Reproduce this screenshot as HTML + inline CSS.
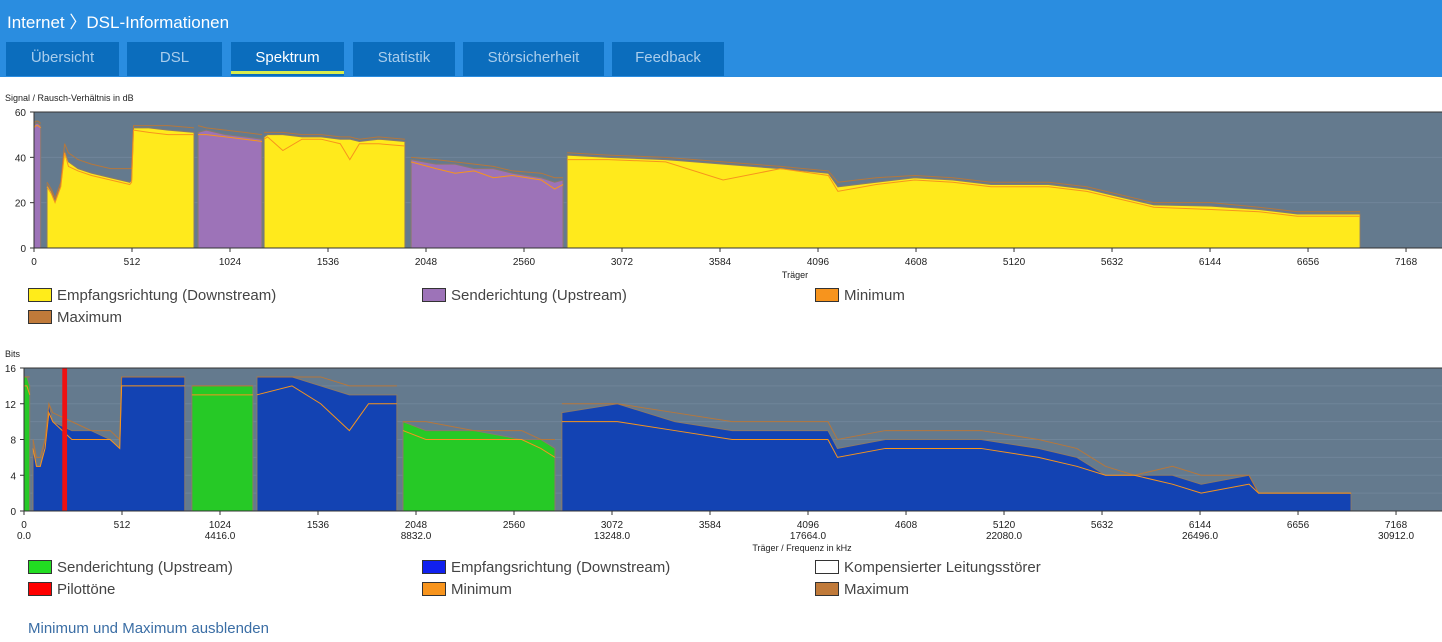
<!DOCTYPE html>
<html><head><meta charset="utf-8">
<style>
body{margin:0;width:1442px;height:642px;overflow:hidden;background:#fff;font-family:"Liberation Sans",sans-serif;position:relative}
#hdr{position:absolute;left:0;top:0;width:1442px;height:77px;background:#2a8de0}
#title{position:absolute;left:7px;top:8px;color:#fff;font-size:17px}
.tab{position:absolute;top:42px;height:34px;background:#0b6dbd;color:#a9cdec;font-size:15px;text-align:center;line-height:32px}
.tab.act{color:#fff}
.tab.act::after{content:"";position:absolute;left:0;right:0;bottom:2px;height:3px;background:#d8ec4c}
.lg{position:absolute;font-size:15px;color:#444;height:16px;line-height:16px}
.lg i{display:inline-block;width:22px;height:12px;border:1px solid #333;vertical-align:-2px;margin-right:5px}
svg text{font-family:"Liberation Sans",sans-serif}
#link{position:absolute;left:28px;top:620px;font-size:15px;color:#3b6ea5}
</style></head><body>
<div id="hdr">
<div id="title">Internet 〉DSL-Informationen</div>
<div class="tab" style="left:6px;width:113px">Übersicht</div>
<div class="tab" style="left:127px;width:95px">DSL</div>
<div class="tab act" style="left:231px;width:113px">Spektrum</div>
<div class="tab" style="left:353px;width:102px">Statistik</div>
<div class="tab" style="left:463px;width:141px">Störsicherheit</div>
<div class="tab" style="left:612px;width:112px">Feedback</div>
</div>
<svg id="svg" width="1442" height="642" style="position:absolute;left:0;top:0"></svg>

<div class="lg" style="left:28px;top:288px"><i style="background:#ffec1a"></i>Empfangsrichtung (Downstream)</div>
<div class="lg" style="left:422px;top:288px"><i style="background:#9d73b8"></i>Senderichtung (Upstream)</div>
<div class="lg" style="left:815px;top:288px"><i style="background:#f7941d"></i>Minimum</div>
<div class="lg" style="left:28px;top:310px"><i style="background:#c07a3a"></i>Maximum</div>

<div class="lg" style="left:28px;top:560px"><i style="background:#22dd22"></i>Senderichtung (Upstream)</div>
<div class="lg" style="left:422px;top:560px"><i style="background:#1020ee"></i>Empfangsrichtung (Downstream)</div>
<div class="lg" style="left:815px;top:560px"><i style="background:#fff"></i>Kompensierter Leitungsstörer</div>
<div class="lg" style="left:28px;top:582px"><i style="background:#f00"></i>Pilottöne</div>
<div class="lg" style="left:422px;top:582px"><i style="background:#f7941d"></i>Minimum</div>
<div class="lg" style="left:815px;top:582px"><i style="background:#c07a3a"></i>Maximum</div>
<div id="link">Minimum und Maximum ausblenden</div>

<script>
// ---- data ----
const xTicks=[0,512,1024,1536,2048,2560,3072,3584,4096,4608,5120,5632,6144,6656,7168];
const freqTicks=["0.0","4416.0","8832.0","13248.0","17664.0","22080.0","26496.0","30912.0"];
const snrTicks=[0,20,40,60];
const bitTicks=[0,4,8,12,16];
// SNR bands
const snrBandDir=["u","d","u","d","u","d"];
const snrBandCarriers=[
 [0,10,20,35],
 [68,90,110,140,160,180,230,300,400,500,510,520,600,700,836],
 [857,900,1000,1100,1191],
 [1202,1220,1300,1400,1500,1600,1650,1700,1800,1938],
 [1970,2100,2200,2300,2400,2500,2650,2720,2764],
 [2785,3000,3300,3600,3900,4150,4200,4400,4600,4800,5000,5300,5500,5700,5850,6150,6400,6600,6928]];
const snrValues=[
 [54,55,55,54],
 [28,25,21,28,43,38,35,33,31,29,30,53,53,52,51],
 [51,52,50,49,48],
 [49,50,50,49,49,48,48,47,48,47],
 [39,37,37,35,35,33,31,29,30],
 [41,40,39,37,35,33,27,29,31,30,28,28,26,22,19,18.5,17,15,15]];
const snrMin=[
 [53,54,54,53],
 [27,24,20,27,42,36,34,32,30,28,29,52,51,50,50],
 [50,50,49,48,47],
 [48,49,43,48,48,46,39,46,46,45],
 [38,35,33,34,31,32,30,26,28],
 [39,39,38,30,35,32,25,28,30,29,27,27,25,21,18,17,16,14,14]];
const snrMax=[
 [55,56,56,55],
 [29,26,22,29,46,42,39,37,35,35,35,54,54,54,53],
 [54,53,52,51,50],
 [51,51,51,50,50,49,49,48,49,48],
 [40,39,38,37,36,34,33,31,31],
 [42,41,40,38,36,34,29,31,32,31,29,29,27,23,20,20,18,16,16]];
// Bits bands
const bitBandDir=["u","d","u","d","u","d"];
const bitBandCarriers=[
 [0,15,30],
 [47,65,85,110,130,150,250,350,450,500,510,840],
 [877,1000,1196],
 [1217,1400,1550,1700,1800,1948],
 [1980,2100,2350,2600,2700,2774],
 [2810,3100,3400,3700,4000,4200,4250,4500,4800,5000,5300,5500,5650,5800,6000,6150,6400,6450,6933]];
const bitValues=[
 [15,15,14],
 [8,5,5,8,12,10,9,9,8,7,15,15],
 [14,14,14],
 [15,15,14,13,13,13],
 [10,9,9,8,8,7],
 [11,12,10,9,9,9,7,8,8,8,7,6,4,4,4,3,4,2,2]];
const bitMin=[
 [14,14,13],
 [7,5,5,7,11,10,8,8,8,7,14,14],
 [13,13,13],
 [13,14,12,9,12,12],
 [9,8,8,8,7,6],
 [10,10,9,8,8,8,6,7,7,7,6,5,4,4,3,2,3,2,2]];
const bitMax=[
 [15,15,15],
 [8,6,6,8,12,11,10,9,9,8,15,15],
 [14,14,14],
 [15,15,15,14,14,14],
 [10,10,9,9,8,8],
 [12,12,11,10,10,10,8,9,9,9,8,7,5,4,5,4,4,2,2]];
const pilotCarriers=[200,225];

// ---- drawing ----
const NS="http://www.w3.org/2000/svg";
const svg=document.getElementById('svg');
function mk(t,a,parent){const e=document.createElementNS(NS,t);for(const k in a)e.setAttribute(k,a[k]);(parent||svg).appendChild(e);return e;}
function chart(o){
 const sx=c=>o.x0+c*0.19141;
 const sy=v=>o.yb-(v/o.ymax)*(o.yb-o.yt);
 const g=mk('g',{});
 
 
 mk('rect',{x:o.x0,y:o.yt,width:1442-o.x0,height:o.yb-o.yt,fill:'#647a8e'},g);
 o.grid.forEach(v=>mk('line',{x1:o.x0,x2:1442,y1:sy(v),y2:sy(v),stroke:'#6f8599','stroke-width':1},g));
 o.carriers.forEach((cs,i)=>{
  const vs=o.vals[i];
  let d=`M${sx(cs[0])},${sy(0)}`;cs.forEach((c,j)=>d+=`L${sx(c)},${sy(vs[j])}`);d+=`L${sx(cs[cs.length-1])},${sy(0)}Z`;
  const p=mk('path',{d,fill:o.dir[i]=='u'?o.up:o.down,stroke:'#8a7a6a','stroke-width':1},g);
  
  
  [[o.max,'#b5773c'],[o.min,'#f7941d']].forEach(([arr,col])=>{
   let l='';cs.forEach((c,j)=>l+=(j?'L':'M')+sx(c)+','+sy(arr[i][j]));
   const q=mk('path',{d:l,fill:'none',stroke:col,'stroke-width':1},g);
   
   
  });
 });
 if(o.pilot){const r=mk('rect',{x:sx(o.pilot[0]),y:o.yt,width:sx(o.pilot[1])-sx(o.pilot[0]),height:o.yb-o.yt,fill:'#ee1111'},g);
  }
 mk('line',{x1:o.x0,x2:1442,y1:o.yt,y2:o.yt,stroke:'#333'},g);
 mk('line',{x1:o.x0,x2:o.x0,y1:o.yt,y2:o.yb,stroke:'#333'},g);
 mk('line',{x1:o.x0,x2:1442,y1:o.yb,y2:o.yb,stroke:'#333'},g);
 o.yticks.forEach(v=>{mk('line',{x1:o.x0-4,x2:o.x0,y1:sy(v),y2:sy(v),stroke:'#333'},g);
  const t=mk('text',{x:o.x0-8,y:sy(v)+4,'font-size':10,'text-anchor':'end',fill:'#222'},g);t.textContent=v;});
 xTicks.forEach((c,i)=>{mk('line',{x1:sx(c),x2:sx(c),y1:o.yb,y2:o.yb+4,stroke:'#333'},g);
  const t=mk('text',{x:sx(c),y:o.yb+17,'font-size':10,'text-anchor':'middle',fill:'#222'},g);t.textContent=c;
  if(o.freq&&i%2==0){const f=mk('text',{x:sx(c),y:o.yb+28,'font-size':10,'text-anchor':'middle',fill:'#222'},g);f.textContent=freqTicks[i/2];}});
 const tt=mk('text',{x:5,y:o.yt-11,'font-size':9,fill:'#222'},g);tt.textContent=o.ytitle;
 const xt=mk('text',{x:o.xtx,y:o.xty,'font-size':9,'text-anchor':'middle',fill:'#222'},g);xt.textContent=o.xtitle;
}
chart({name:'snr-chart',x0:34,yt:112,yb:248,ymax:60,grid:[20,40],yticks:snrTicks,carriers:snrBandCarriers,vals:snrValues,min:snrMin,max:snrMax,dir:snrBandDir,up:'#9d73b8',down:'#ffea1c',ytitle:'Signal / Rausch-Verhältnis in dB',xtitle:'Träger',xtx:795,xty:278});
chart({name:'bits-chart',x0:24,yt:368,yb:511,ymax:16,grid:[2,4,6,8,10,12,14],yticks:bitTicks,carriers:bitBandCarriers,vals:bitValues,min:bitMin,max:bitMax,dir:bitBandDir,up:'#26c926',down:'#1343b3',pilot:pilotCarriers,freq:true,ytitle:'Bits',xtitle:'Träger / Frequenz in kHz',xtx:802,xty:551});
</script>
</body></html>
